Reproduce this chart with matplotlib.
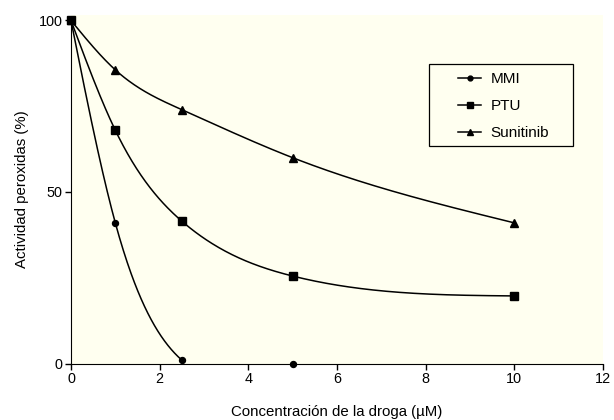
import numpy as np
import matplotlib
matplotlib.use("Agg")
import matplotlib.pyplot as plt
from matplotlib.patches import Rectangle

plt.rcParams['font.family'] = ['Liberation Sans', 'DejaVu Sans']

# data
conc = [0, 1, 2.5, 5, 10]
mmi_x = [0, 1, 2.5, 5]
mmi = [100, 41, 1, 0]
ptu = [100, 68, 41.5, 25.5, 19.7]
suni = [100, 85.6, 74, 60, 41]


def spline(x, y, xs):
    # natural cubic spline through the points (smooth connecting curve)
    x = np.asarray(x, float)
    y = np.asarray(y, float)
    n = len(x)
    h = np.diff(x)
    A = np.zeros((n, n))
    b = np.zeros(n)
    A[0, 0] = A[-1, -1] = 1
    for i in range(1, n - 1):
        A[i, i - 1] = h[i - 1]
        A[i, i] = 2 * (h[i - 1] + h[i])
        A[i, i + 1] = h[i]
        b[i] = 6 * ((y[i + 1] - y[i]) / h[i] - (y[i] - y[i - 1]) / h[i - 1])
    M = np.linalg.solve(A, b)
    xs = np.asarray(xs, float)
    i = np.clip(np.searchsorted(x, xs) - 1, 0, n - 2)
    t0 = x[i + 1] - xs
    t1 = xs - x[i]
    return (M[i] * t0**3 / (6 * h[i]) + M[i + 1] * t1**3 / (6 * h[i])
            + (y[i] / h[i] - M[i] * h[i] / 6) * t0
            + (y[i + 1] / h[i] - M[i + 1] * h[i] / 6) * t1)


fig = plt.figure(figsize=(6.14, 4.2), dpi=100)
ax = fig.add_axes([0.1156, 0.1345, 0.8664, 0.8298])
ax.set_facecolor('#fffff0')

xs = np.linspace(0, 10, 400)
xm = np.linspace(0, 2.5, 200)
lw = 1.1
ax.plot(xm, spline(mmi_x, mmi, xm), color='black', lw=lw, zorder=2)
ax.plot(xs, spline(conc, ptu, xs), color='black', lw=lw, zorder=2)
ax.plot(xs, spline(conc, suni, xs), color='black', lw=lw, zorder=2)

ax.plot(mmi_x, mmi, 'o', color='black', ms=4.3, clip_on=False, zorder=3)
ax.plot(conc, ptu, 's', color='black', ms=5.5, clip_on=False, zorder=3)
ax.plot(conc, suni, '^', color='black', ms=5.5, clip_on=False, zorder=3)

# legend: entries without frame, box drawn separately
h1, = ax.plot([], [], '-o', color='black', lw=lw, ms=3.5, label='MMI')
h2, = ax.plot([], [], '-s', color='black', lw=lw, ms=4.5, label='PTU')
h3, = ax.plot([], [], '-^', color='black', lw=lw, ms=4.5, label='Sunitinib')
ax.legend(handles=[h1, h2, h3], loc='upper left', bbox_to_anchor=(0.727, 0.836),
          fontsize=11, frameon=False, handlelength=1.55, labelspacing=0.86,
          borderpad=0, handletextpad=0.6, borderaxespad=0)
ax.add_patch(Rectangle((0.673, 0.624), 0.2706, 0.235, transform=ax.transAxes,
                       facecolor='none', edgecolor='black', lw=0.9, zorder=4))

ax.set_xlim(0, 12)
ax.set_ylim(0, 101.6)
ax.set_xticks([0, 2, 4, 6, 8, 10, 12])
ax.set_yticks([0, 50, 100])
ax.spines['top'].set_visible(False)
ax.spines['right'].set_visible(False)
ax.spines['left'].set_bounds(0, 100)
ax.tick_params(direction='out', length=4, width=1, labelsize=10.4, pad=2)
ax.set_xlabel('Concentración de la droga (µM)', fontsize=10.8, labelpad=14)
ax.set_ylabel('Actividad peroxidas (%)', fontsize=10.8, labelpad=7)

fig.savefig('out.png', dpi=100)
